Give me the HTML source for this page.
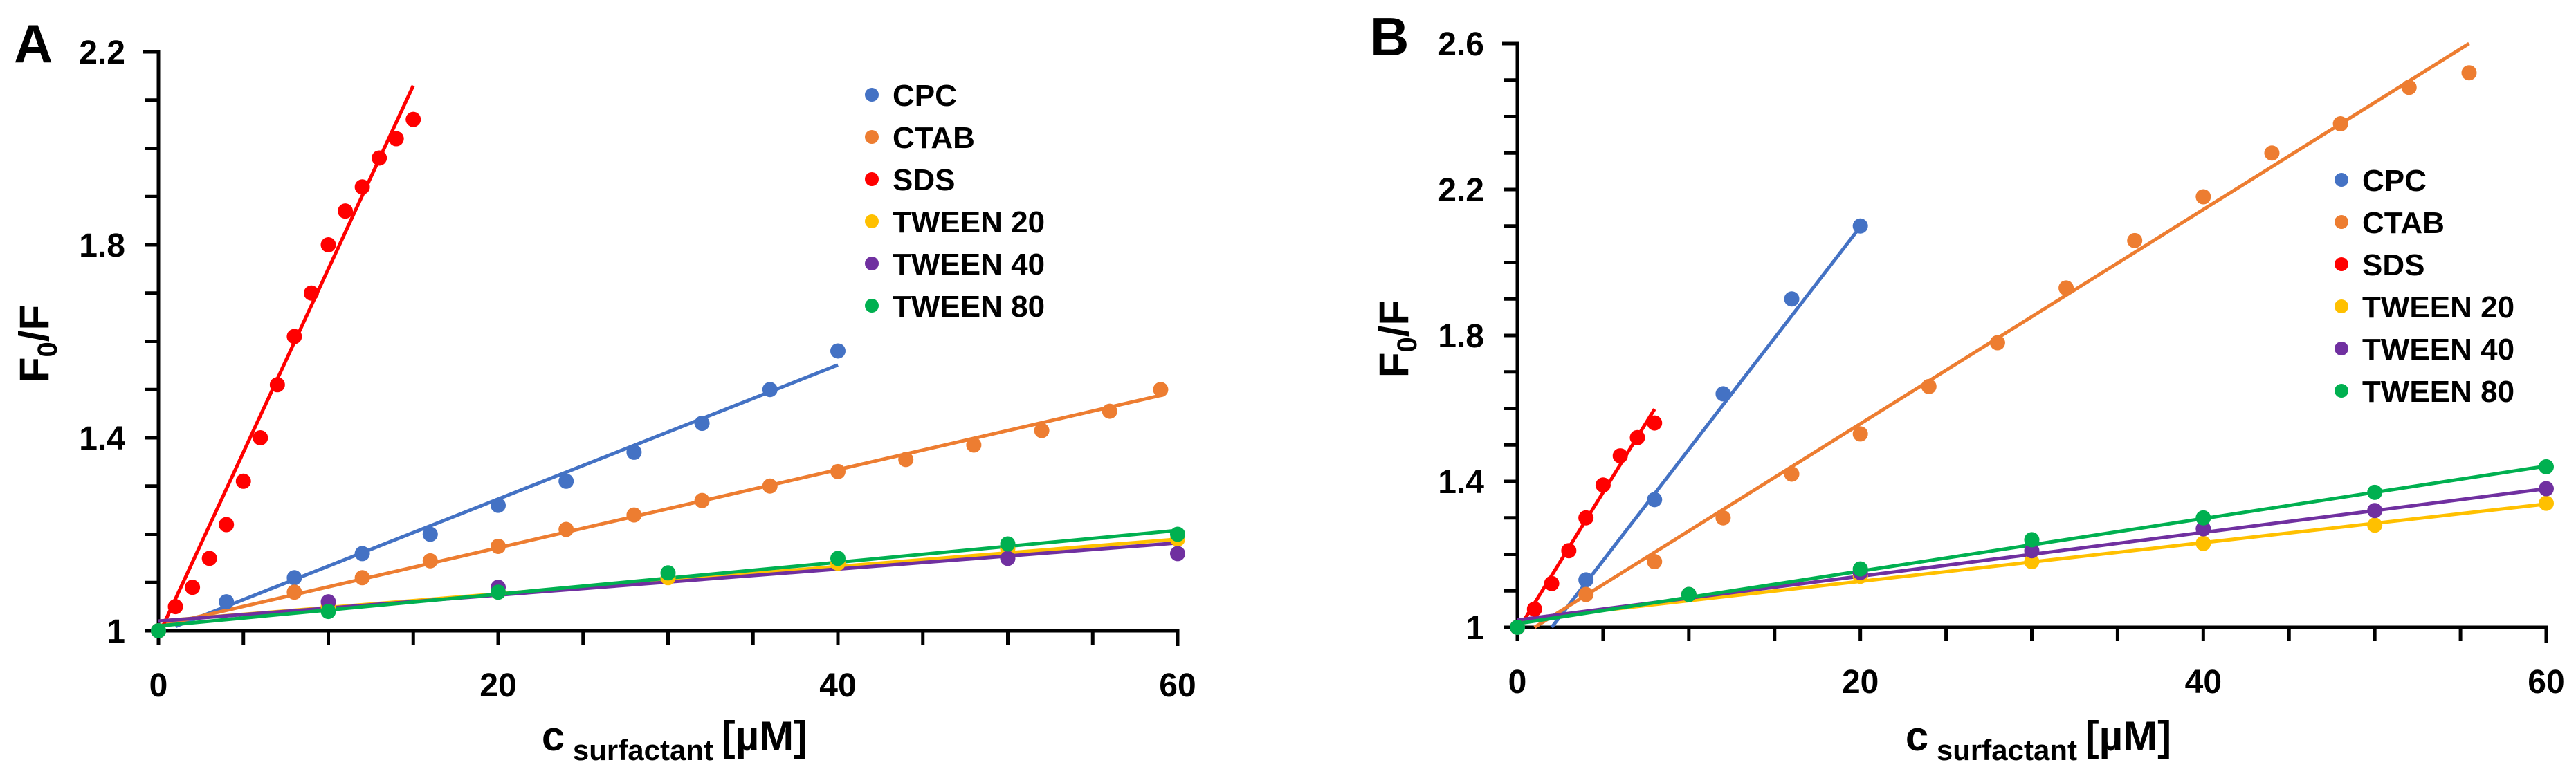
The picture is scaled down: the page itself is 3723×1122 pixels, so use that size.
<!DOCTYPE html>
<html><head><meta charset="utf-8"><style>
html,body{margin:0;padding:0;background:#fff;}
svg{display:block;font-family:"Liberation Sans",sans-serif;}
</style></head><body>
<svg id="fig" width="3723" height="1122" viewBox="0 0 3723 1122" xmlns="http://www.w3.org/2000/svg"></svg>
<script>
const seriesNames = ["CPC","CTAB","SDS","TWEEN 20","TWEEN 40","TWEEN 80"];
const seriesColors = ["#4472C4","#ED7D31","#FF0000","#FFC000","#7030A0","#00B050"];
// Panel A data
const aCPCx = [0,4,8,12,16,20,24,28,32,36,40];
const aCPCy = [1.0,1.06,1.11,1.16,1.20,1.26,1.31,1.37,1.43,1.50,1.58];
const aCTABx = [0,8,12,16,20,24,28,32,36,40,44,48,52,56,59];
const aCTABy = [1.0,1.08,1.11,1.145,1.175,1.21,1.24,1.27,1.30,1.33,1.355,1.385,1.415,1.455,1.50];
const aSDSx = [0,1,2,3,4,5,6,7,8,9,10,11,12,13,14,15];
const aSDSy = [1.0,1.05,1.09,1.15,1.22,1.31,1.40,1.51,1.61,1.70,1.80,1.87,1.92,1.98,2.02,2.06];
const aT20x = [0,10,20,30,40,50,60];
const aT20y = [1.0,1.05,1.08,1.11,1.14,1.17,1.19];
const aT40x = [0,10,20,50,60];
const aT40y = [1.0,1.06,1.09,1.15,1.16];
const aT80x = [0,10,20,30,40,50,60];
const aT80y = [1.0,1.04,1.08,1.12,1.15,1.18,1.20];
// Panel A fit lines: [x0, x1, intercept, slope]
const aFits = [[1,40,0.995,0.0139],[0,59,1.01,0.0081],[0,15,0.99,0.076],[0,60,1.02,0.00283],[0,60,1.02,0.0027],[0,60,1.01,0.0033]];
// Panel B data
const bCPCx = [0,4,8,12,16,20];
const bCPCy = [1.0,1.13,1.35,1.64,1.90,2.10];
const bCTABx = [0,4,8,12,16,20,24,28,32,36,40,44,48,52,55.5];
const bCTABy = [1.0,1.09,1.18,1.30,1.42,1.53,1.66,1.78,1.93,2.06,2.18,2.30,2.38,2.48,2.52];
const bSDSx = [0,1,2,3,4,5,6,7,8];
const bSDSy = [1.0,1.05,1.12,1.21,1.30,1.39,1.47,1.52,1.56];
const bT20x = [0,10,20,30,40,50,60];
const bT20y = [1.0,1.09,1.14,1.18,1.23,1.28,1.34];
const bT40x = [0,10,20,30,40,50,60];
const bT40y = [1.0,1.09,1.15,1.21,1.27,1.32,1.38];
const bT80x = [0,10,20,30,40,50,60];
const bT80y = [1.0,1.09,1.16,1.24,1.30,1.37,1.44];
const bFits = [[2,20,0.878,0.061],[1,55.5,0.9706,0.02936],[0,8,0.99,0.076],[0,60,1.02,0.0053],[0,60,1.02,0.006],[0,60,1.01,0.0072]];
const xTickLabels = [0,20,40,60];
const aYTickLabels = ["1","1.4","1.8","2.2"];
const bYTickLabels = ["1","1.4","1.8","2.2","2.6"];

const NS="http://www.w3.org/2000/svg";
const svg=document.getElementById('fig');
function mk(tag,attrs,parent){const e=document.createElementNS(NS,tag);for(const k in attrs)e.setAttribute(k,attrs[k]);(parent||svg).appendChild(e);return e;}

function panel(cfg){
  const g=mk('g',{});
  
  
  const X=v=>cfg.x0+(v-0)/60*(cfg.x1-cfg.x0);
  const Y=v=>cfg.y0-(v-1)/(cfg.ymax-1)*(cfg.y0-cfg.y1);
  const ax=mk('path',{d:`M${cfg.x0-22},${cfg.y1} H${cfg.x0} V${cfg.y0} H${cfg.x1} V${cfg.y0+22}`,fill:'none',stroke:'#000','stroke-width':5},g);
  
  
  for(let v=1;v<=cfg.ymax+1e-9;v+=0.1){const t=mk('line',{x1:cfg.x0-20,x2:cfg.x0,y1:Y(v),y2:Y(v),stroke:'#000','stroke-width':5},g);
    
    }
  for(let v=0;v<=60;v+=5){const t=mk('line',{x1:X(v),x2:X(v),y1:cfg.y0,y2:cfg.y0+20,stroke:'#000','stroke-width':5},g);
    
    }
  cfg.yLabels.forEach(s=>{const t=mk('text',{x:cfg.x0-48,y:Y(parseFloat(s))+17,'text-anchor':'end','font-size':48,'font-weight':'bold'},g);t.textContent=s;
    
    });
  xTickLabels.forEach(v=>{const t=mk('text',{x:X(v),y:cfg.y0+95,'text-anchor':'middle','font-size':48,'font-weight':'bold'},g);t.textContent=v;
    
    });
  cfg.fits.forEach((f,i)=>{const l=mk('line',{x1:X(f[0]),y1:Y(f[2]+f[3]*f[0]),x2:X(f[1]),y2:Y(f[2]+f[3]*f[1]),stroke:seriesColors[i],'stroke-width':5},g);
    
    });
  cfg.data.forEach((d,i)=>{d[0].forEach((xv,j)=>{const c=mk('circle',{cx:X(xv),cy:Y(d[1][j]),r:11,fill:seriesColors[i]},g);
    
    });});
  seriesNames.forEach((n,i)=>{const yy=cfg.ly+i*61;
    const c=mk('circle',{cx:cfg.lx,cy:yy,r:10,fill:seriesColors[i]},g);
    
    
    const t=mk('text',{x:cfg.lx+30,y:yy+16,'font-size':44,'font-weight':'bold'},g);t.textContent=n;
    
    });
  const L=mk('text',{x:cfg.letterX,y:cfg.letterY,'font-size':78,'font-weight':'bold'},g);L.textContent=cfg.letter;
  
  
  const yt=mk('text',{transform:`translate(${cfg.ytX},${cfg.ytY}) rotate(-90)`,'text-anchor':'middle','font-size':60,'font-weight':'bold'},g);
  yt.innerHTML='F<tspan font-size="40" dy="12">0</tspan><tspan dy="-12">/F</tspan>';
  
  
  const xt=mk('text',{x:cfg.xtX,y:1085,'text-anchor':'middle','font-size':60,'font-weight':'bold'},g);
  xt.innerHTML='c<tspan font-size="42" dy="14"> surfactant </tspan><tspan dy="-14">[µM]</tspan>';
  
  
}
panel({id:'panel-a',x0:229,x1:1702,y0:912,y1:75,ymax:2.2,yLabels:aYTickLabels,fits:aFits,
  data:[[aCPCx,aCPCy],[aCTABx,aCTABy],[aSDSx,aSDSy],[aT20x,aT20y],[aT40x,aT40y],[aT80x,aT80y]],
  lx:1260,ly:137,letter:'A',letterX:20,letterY:90,ytX:70,ytY:497,xtX:975});
panel({id:'panel-b',x0:2193,x1:3680,y0:907,y1:63,ymax:2.6,yLabels:bYTickLabels,fits:bFits,
  data:[[bCPCx,bCPCy],[bCTABx,bCTABy],[bSDSx,bSDSy],[bT20x,bT20y],[bT40x,bT40y],[bT80x,bT80y]],
  lx:3384,ly:260,letter:'B',letterX:1980,letterY:80,ytX:2035,ytY:490,xtX:2946});
</script>
</body></html>
